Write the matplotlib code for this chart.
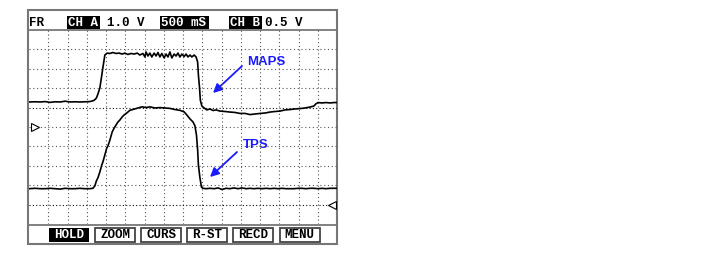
import matplotlib
matplotlib.use('Agg')
import matplotlib.pyplot as plt
from matplotlib.patches import Rectangle

# scope settings
TIME_PER_DIV = 0.5      # 500 mS / div
CH_A_SCALE = 1.0        # V / div (MAPS)
CH_B_SCALE = 0.5        # V / div (TPS)
CH_A_ZERO = 5.0         # ground marker position, divisions from bottom
CH_B_ZERO = 1.0

# channel A - MAP sensor, time in s, volts
maps_t = [0.00, 0.16, 0.29, 0.42, 0.55, 0.68, 0.81, 0.94, 1.06, 1.19, 1.32, 1.45, 1.58,
          1.69, 1.75, 1.79, 1.84, 1.88, 1.91, 1.95, 1.97, 2.03, 2.10, 2.18, 2.26, 2.34,
          2.42, 2.49, 2.57, 2.65, 2.73, 2.81, 2.88, 2.96, 3.01, 3.04, 3.09, 3.14, 3.19,
          3.25, 3.30, 3.35, 3.40, 3.45, 3.51, 3.56, 3.61, 3.66, 3.71, 3.77, 3.82, 3.87,
          3.92, 3.97, 4.03, 4.08, 4.13, 4.18, 4.23, 4.29, 4.34, 4.38, 4.40, 4.43, 4.45,
          4.49, 4.55, 4.62, 4.70, 4.78, 4.86, 4.96, 5.09, 5.22, 5.35, 5.48, 5.61, 5.74,
          5.87, 6.00, 6.13, 6.26, 6.39, 6.52, 6.65, 6.78, 6.91, 7.04, 7.17, 7.30, 7.40,
          7.45, 7.51, 7.61, 7.71, 7.82, 7.92, 8.00]
maps_v = [1.29, 1.30, 1.29, 1.31, 1.27, 1.30, 1.29, 1.33, 1.29, 1.30, 1.29, 1.30, 1.31,
          1.37, 1.49, 1.70, 2.01, 2.53, 2.94, 3.45, 3.71, 3.81, 3.79, 3.84, 3.79, 3.81,
          3.76, 3.81, 3.74, 3.79, 3.76, 3.81, 3.71, 3.79, 3.61, 3.87, 3.66, 3.81, 3.61,
          3.81, 3.66, 3.84, 3.61, 3.79, 3.56, 3.76, 3.61, 3.87, 3.56, 3.76, 3.66, 3.81,
          3.61, 3.76, 3.63, 3.76, 3.61, 3.71, 3.61, 3.71, 3.61, 3.35, 2.68, 2.01, 1.39,
          1.08, 0.98, 0.88, 0.93, 0.85, 0.88, 0.82, 0.80, 0.77, 0.75, 0.70, 0.70, 0.64,
          0.67, 0.70, 0.72, 0.77, 0.80, 0.82, 0.88, 0.90, 0.93, 0.95, 0.98, 1.03, 1.08,
          1.19, 1.26, 1.24, 1.26, 1.24, 1.26, 1.26]

# channel B - throttle position sensor
tps_t = [0.00, 0.16, 0.29, 0.42, 0.55, 0.68, 0.81, 0.94, 1.06, 1.19, 1.32, 1.45, 1.58,
         1.66, 1.71, 1.75, 1.79, 1.84, 1.89, 1.92, 1.97, 2.02, 2.05, 2.10, 2.16, 2.21,
         2.26, 2.31, 2.36, 2.42, 2.47, 2.55, 2.62, 2.73, 2.83, 2.94, 3.04, 3.14, 3.27,
         3.40, 3.53, 3.66, 3.79, 3.92, 4.03, 4.10, 4.18, 4.26, 4.31, 4.35, 4.38, 4.40,
         4.44, 4.48, 4.52, 4.60, 4.70, 4.81, 4.91, 5.01, 5.12, 5.22, 5.32, 5.43, 5.53,
         5.64, 5.74, 5.84, 5.95, 6.05, 6.16, 6.26, 6.36, 6.47, 6.57, 6.68, 6.78, 6.88,
         6.99, 7.09, 7.19, 7.30, 7.40, 7.51, 7.61, 7.71, 7.82, 7.92, 8.00]
tps_v = [0.41, 0.42, 0.41, 0.41, 0.42, 0.41, 0.40, 0.42, 0.41, 0.41, 0.42, 0.41, 0.41,
         0.42, 0.48, 0.61, 0.69, 0.84, 1.02, 1.10, 1.28, 1.46, 1.51, 1.66, 1.87, 1.97,
         2.05, 2.13, 2.18, 2.26, 2.31, 2.37, 2.43, 2.46, 2.49, 2.52, 2.50, 2.52, 2.49,
         2.50, 2.49, 2.48, 2.45, 2.43, 2.39, 2.31, 2.21, 2.13, 2.03, 1.79, 1.41, 1.02,
         0.69, 0.45, 0.42, 0.41, 0.42, 0.41, 0.43, 0.39, 0.42, 0.41, 0.43, 0.41, 0.43,
         0.41, 0.42, 0.41, 0.42, 0.41, 0.42, 0.41, 0.42, 0.41, 0.42, 0.41, 0.41, 0.41,
         0.42, 0.42, 0.41, 0.42, 0.42, 0.41, 0.42, 0.41, 0.42, 0.42, 0.42]

header_items = [("FR", False), ("CH A", True), ("1.0 V", False),
                ("500 mS", True), ("CH B", True), ("0.5 V", False)]
menu_labels = ["HOLD", "ZOOM", "CURS", "R-ST", "RECD", "MENU"]

BLUE = '#1a1aff'
MONO = 'Liberation Mono'

fig = plt.figure(figsize=(7.01, 2.58), dpi=100)

# screen furniture layer in pixel units
bg = fig.add_axes([0, 0, 1, 1])
bg.set_xlim(0, 701)
bg.set_ylim(258, 0)
bg.axis('off')
bg.add_patch(Rectangle((28, 9.5), 309, 234.5, fill=False, ec='#777777', lw=1.5))
bg.plot([28, 337], [30, 30], color='#777777', lw=1.3)
bg.plot([28, 337], [224.5, 224.5], color='#777777', lw=1.3)

# header readout
header_x = [29, 68, 107, 161, 230, 265]
header_w = [0, 31, 0, 47, 31, 0]
for (txt, inv), x, w in zip(header_items, header_x, header_w):
    if inv:
        bg.add_patch(Rectangle((x - 1, 15.5), w + 2, 13, color='black', lw=0))
    bg.text(x, 22.5, txt, ha='left', va='center', family=MONO, fontweight='bold',
            fontsize=9, color='white' if inv else 'black')

# soft-key menu
for i, lab in enumerate(menu_labels):
    x0 = 49 + i * 46.1
    if i == 0:
        bg.add_patch(Rectangle((x0, 228), 40, 14, color='black', lw=0))
        col = 'white'
    else:
        bg.add_patch(Rectangle((x0, 228), 40, 14, fc='white', ec='#444444', lw=1.3))
        col = 'black'
    bg.text(x0 + 20, 235.5, lab, ha='center', va='center', family=MONO,
            fontweight='bold', fontsize=9, color=col)

# traces
ax = fig.add_axes([29 / 701, 34 / 258, 308 / 701, 194 / 258])
ax.set_xlim(0, 16 * TIME_PER_DIV)
ax.set_ylim(0, 10)
ax.axis('off')
ax.patch.set_alpha(0)

for k in range(1, 16):
    ax.axvline(k * TIME_PER_DIV, color='#555555', lw=0.8, ls=(0, (1, 2.4)))
for j in range(1, 10):
    dark = j in (1, 6)
    ax.axhline(j, color='#111111' if dark else '#555555', lw=0.8,
               ls=(0, (1, 2.0)) if dark else (0, (1, 2.4)))

ax.plot(maps_t, [CH_A_ZERO + v / CH_A_SCALE for v in maps_v], color='black', lw=1.2)
ax.plot(tps_t, [CH_B_ZERO + v / CH_B_SCALE for v in tps_v], color='black', lw=1.2)

# ground markers
ax.plot([0.15], [CH_A_ZERO], marker='>', ms=6, mfc='white', mec='black', mew=0.8, clip_on=False)
ax.plot([7.87], [CH_B_ZERO], marker='<', ms=6, mfc='white', mec='black', mew=0.8, clip_on=False)

# labels with arrows
arrow = dict(arrowstyle='-|>', color=BLUE, lw=1.3, mutation_scale=13, shrinkA=0, shrinkB=0)
bg.annotate('', xy=(213, 93), xytext=(242, 66), arrowprops=arrow)
bg.text(247, 62, 'MAPS', ha='left', va='center', color=BLUE, fontweight='bold',
        fontsize=9.5, family='Liberation Sans')
bg.annotate('', xy=(210, 177), xytext=(237, 152), arrowprops=arrow)
bg.text(243, 145.5, 'TPS', ha='left', va='center', color=BLUE, fontweight='bold',
        fontsize=9.5, family='Liberation Sans')

fig.savefig('out.png', dpi=100)
